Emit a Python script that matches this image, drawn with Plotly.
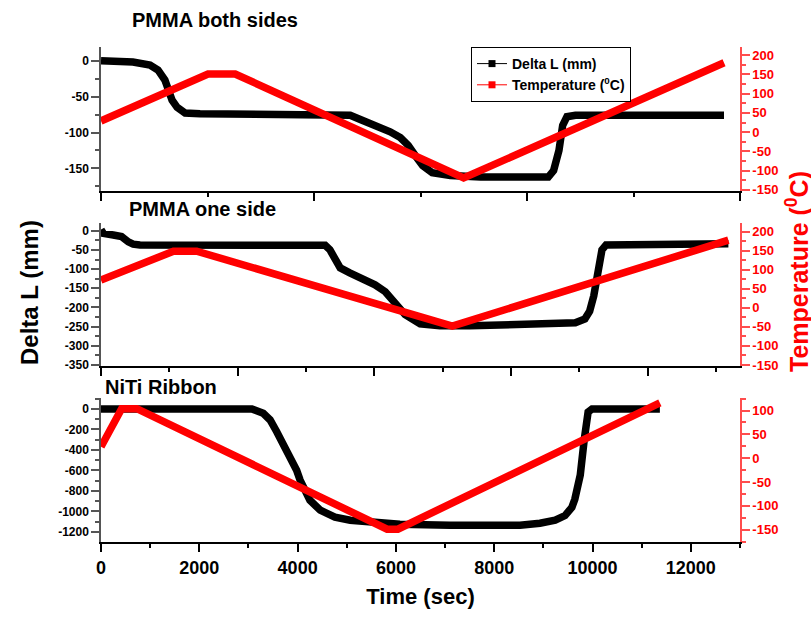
import plotly.graph_objects as go

# ---------------- data ----------------
# Panel 1: PMMA both sides (own time scale, hidden labels)
pmma2_dl_t = [0, 600, 920, 1070, 1200, 1260, 1335, 1430, 1580, 1860, 3740, 4680, 4870, 5150,
              5430, 5620, 5770, 5900, 6040, 6220, 6560, 7130, 8400, 8500, 8600, 8670, 8750, 8910, 11700]
pmma2_dl = [0, -2, -6, -13, -27, -41, -55, -65, -73, -74, -76, -76, -82, -90,
            -99, -107, -118, -132, -146, -156, -160, -162, -162, -153, -125, -90, -78, -76, -76]
pmma2_temp_t = [0, 2010, 2520, 6810, 11700]
pmma2_temp = [29, 151, 151, -119, 180]

# Panel 2: PMMA one side
pmma1_dl_t = [0, 34, 180, 300, 400, 470, 570, 2910, 3280, 3350, 3420, 3500, 3640, 3860, 4010,
              4160, 4300, 4450, 4670, 4960, 5400, 6720, 6940, 7080, 7150, 7210, 7270, 7330, 7390, 9180]
pmma1_dl = [3, -7, -11, -15, -29, -35, -37, -37, -38, -50, -76, -97, -110, -128, -141,
            -159, -188, -219, -243, -248, -248, -245, -240, -230, -210, -170, -100, -50, -37, -34]
pmma1_temp_t = [0, 1060, 1400, 5140, 9180]
pmma1_temp = [73, 149, 149, -48, 178]

# Panel 3: NiTi Ribbon (labelled time axis, sec)
niti_dl_t = [0, 3070, 3300, 3440, 3575, 3780, 3980, 4050, 4250, 4460, 4760, 5070, 5470, 6080,
             7100, 8525, 8930, 9240, 9440, 9580, 9640, 9750, 9830, 9910, 9990, 11370]
niti_dl = [0, 0, -42, -107, -222, -401, -597, -694, -890, -988, -1056, -1086, -1105, -1125,
           -1134, -1134, -1115, -1085, -1040, -960, -880, -645, -303, -29, 0, 0]
niti_temp_t = [0, 420, 730, 5820, 6040, 11370]
niti_temp = [24, 104, 104, -149, -149, 116]

# tick labels
time_ticks = [0, 2000, 4000, 6000, 8000, 10000, 12000]
pmma2_dl_ticks = [0, -50, -100, -150]
pmma1_dl_ticks = [0, -50, -100, -150, -200, -250, -300, -350]
niti_dl_ticks = [0, -200, -400, -600, -800, -1000, -1200]
pmma_temp_ticks = [200, 150, 100, 50, 0, -50, -100, -150]
niti_temp_ticks = [100, 50, 0, -50, -100, -150]

panel_titles = ["PMMA both sides", "PMMA one side", "NiTi Ribbon"]
series_names = ["Delta L (mm)", "Temperature (<sup>0</sup>C)"]

# ---------------- figure ----------------
FONT = "Arial, Liberation Sans, sans-serif"
BLACK = "black"
RED = "#ff0000"
RED_AX = "#ff4d4d"
LW = 7.5

fig = go.Figure()

def band(x, y, xa, ya, color):
    fig.add_trace(go.Scatter(x=x, y=y, xaxis=xa, yaxis=ya, mode="lines",
                             line=dict(color=color, width=LW), showlegend=False,
                             hoverinfo="skip"))

band(pmma2_dl_t, pmma2_dl, "x3", "y5", BLACK)
band(pmma2_temp_t, pmma2_temp, "x3", "y6", RED)
band(pmma1_dl_t, pmma1_dl, "x2", "y3", BLACK)
band(pmma1_temp_t, pmma1_temp, "x2", "y4", RED)
band(niti_dl_t, niti_dl, "x", "y", BLACK)
band(niti_temp_t, niti_temp, "x", "y2", RED)

# legend-only entries (thin line + square symbol as in the reference legend)
for nm, col in zip(series_names, [BLACK, RED]):
    fig.add_trace(go.Scatter(x=[None], y=[None], xaxis="x3", yaxis="y5", mode="lines+markers",
                             name=nm, line=dict(color=col, width=1),
                             marker=dict(symbol="square", size=7, color=col)))

def lab(v):
    return str(v).replace("\u2212", "-")

def xbottom(rng, dtick, mdtick, anchor, labels):
    d = dict(domain=[0, 1], anchor=anchor, range=rng, tick0=0, dtick=dtick, automargin=False,
             showline=True, linecolor=BLACK, linewidth=2, ticks="outside", ticklen=8,
             tickwidth=1.5, tickcolor=BLACK, showgrid=False, zeroline=False,
             showticklabels=labels,
             tickfont=dict(family=FONT, size=18, color=BLACK, weight="bold"),
             minor=dict(dtick=mdtick, ticks="outside", ticklen=4, tickwidth=1.5,
                        tickcolor=BLACK, showgrid=False))
    if labels:
        d.update(tickmode="array", tickvals=time_ticks, ticktext=[lab(v) for v in time_ticks])
    return d

def xtop(rng, dtick, mdtick, over, anchor):
    return dict(overlaying=over, side="top", anchor=anchor, range=rng, tick0=0, dtick=dtick,
                automargin=False,
                showline=True, linecolor=BLACK, linewidth=2, ticks="inside", ticklen=7,
                tickwidth=1.5, tickcolor=BLACK, showgrid=False, zeroline=False,
                showticklabels=False,
                minor=dict(dtick=mdtick, ticks="inside", ticklen=4, tickwidth=1.5,
                           tickcolor=BLACK, showgrid=False))

def yleft(dom, rng, ticks, mdtick, anchor):
    return dict(domain=dom, anchor=anchor, range=rng, automargin=False,
                tickmode="array", tickvals=ticks, ticktext=[lab(v) for v in ticks],
                showline=True, linecolor="#555555", linewidth=1.5, ticks="outside",
                ticklen=8, tickwidth=1.5, tickcolor="#555555", showgrid=False, zeroline=False,
                tickfont=dict(family=FONT, size=12, color=BLACK, weight="bold"),
                minor=dict(tick0=0, dtick=mdtick, ticks="outside", ticklen=4, tickwidth=1.5,
                           tickcolor="#555555", showgrid=False))

def yright(over, rng, ticks, mdtick, anchor):
    return dict(overlaying=over, side="right", anchor=anchor, range=rng, automargin=False,
                tickmode="array", tickvals=ticks, ticktext=[lab(v) for v in ticks],
                showline=True, linecolor=RED_AX, linewidth=1.5, ticks="outside",
                ticklen=8, tickwidth=1.5, tickcolor=RED_AX, showgrid=False, zeroline=False,
                tickfont=dict(family=FONT, size=13, color=RED, weight="bold"),
                minor=dict(tick0=0, dtick=mdtick, ticks="outside", ticklen=4, tickwidth=1.5,
                           tickcolor=RED_AX, showgrid=False))

L, R, T, B = 101, 71, 47, 81
W, H = 811, 623
PH = H - T - B
PW = W - L - R

def py(y):  # pixel y -> paper y
    return (H - B - y) / PH

def px(x):
    return (x - L) / PW

dom_top = [py(190.7), 1.0]
dom_mid = [py(365.7), py(222.7)]
dom_bot = [0.0, py(397.7)]

xa = xbottom([0, 13000], 2000, 1000, "y", True)
xa["title"] = dict(text="Time (sec)", font=dict(family=FONT, size=22, color=BLACK, weight="bold"),
                   standoff=12)

fig.update_layout(
    width=W, height=H,
    margin=dict(l=L, r=R, t=T, b=B, autoexpand=False),
    paper_bgcolor="white", plot_bgcolor="white",
    font=dict(family=FONT),
    xaxis=xa,
    xaxis4=xtop([0, 13000], 2000, 1000, "x", "y"),
    xaxis2=xbottom([0, 9350], 2000, 1000, "y3", False),
    xaxis5=xtop([0, 9350], 2000, 1000, "x2", "y3"),
    xaxis3=xbottom([0, 12000], 4000, 2000, "y5", False),
    xaxis6=xtop([0, 12000], 4000, 2000, "x3", "y5"),
    yaxis=yleft(dom_bot, [-1298, 110], niti_dl_ticks, 100, "x"),
    yaxis2=yright("y", [-176, 127], niti_temp_ticks, 25, "x"),
    yaxis3=yleft(dom_mid, [-352, 21], pmma1_dl_ticks, 25, "x2"),
    yaxis4=yright("y3", [-152, 224], pmma_temp_ticks, 25, "x2"),
    yaxis5=yleft(dom_top, [-181, 19], pmma2_dl_ticks, 25, "x3"),
    yaxis6=yright("y5", [-152, 221], pmma_temp_ticks, 25, "x3"),
    legend=dict(x=px(471), y=1.0, xanchor="left", yanchor="top",
                bordercolor=BLACK, borderwidth=1, bgcolor="white",
                font=dict(family=FONT, size=14, color=BLACK, weight="bold"),
                tracegroupgap=0, itemwidth=30),
    showlegend=True,
)

ann = []
for txt, x0, y0 in zip(panel_titles, [130, 127, 103], [20, 209, 386.5]):
    ann.append(dict(text="<b>%s</b>" % txt, xref="paper", yref="paper", x=px(x0), y=py(y0),
                    xanchor="left", yanchor="middle", showarrow=False,
                    font=dict(family=FONT, size=20, color=BLACK)))
ann.append(dict(text="<b>Delta L (mm)</b>", xref="paper", yref="paper", x=px(29), y=py(293),
                xanchor="center", yanchor="middle", textangle=-90, showarrow=False,
                font=dict(family=FONT, size=24, color=BLACK)))
ann.append(dict(text="<b>Temperature (<sup>0</sup>C)</b>", xref="paper", yref="paper",
                x=px(797), y=py(272), xanchor="center", yanchor="middle", textangle=-90,
                showarrow=False, font=dict(family=FONT, size=25, color=RED)))
fig.update_layout(annotations=ann)

fig.write_html("out.html", config={"displayModeBar": False},
               post_script="document.body.style.margin='0';document.body.style.padding='0';")
